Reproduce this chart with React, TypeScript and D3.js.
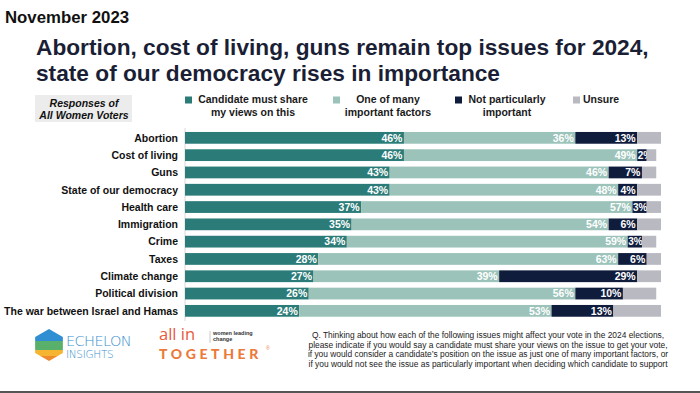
import React from "react";
import * as d3 from "d3";

const categories = [
  "Abortion",
  "Cost of living",
  "Guns",
  "State of our democracy",
  "Health care",
  "Immigration",
  "Crime",
  "Taxes",
  "Climate change",
  "Political division",
  "The war between Israel and Hamas",
];
const mustShare = [46, 46, 43, 43, 37, 35, 34, 28, 27, 26, 24];
const oneOfMany = [36, 49, 46, 48, 57, 54, 59, 63, 39, 56, 53];
const notImportant = [13, 2, 7, 4, 3, 6, 3, 6, 29, 10, 13];
const unsure = [5, 2, 3, 5, 3, 5, 3, 3, 5, 7, 10];

const seriesNames = [
  ["Candidate must share", "my views on this"],
  ["One of many", "important factors"],
  ["Not particularly", "important"],
  ["Unsure"],
];
const colors = ["#2b7c79", "#9cc3ba", "#0f1c3c", "#b9b9c2"];

const footnote = [
  "Q. Thinking about how each of the following issues might affect your vote in the 2024 elections,",
  "please indicate if you would say a candidate must share your views on the issue to get your vote,",
  "if you would consider a candidate\u2019s position on the issue as just one of many important factors, or",
  "if you would not see the issue as particularly important when deciding which candidate to support",
];

const FONT = "'Liberation Sans', Arial, Helvetica, sans-serif";

export default function App() {
  const W = 700,
    H = 393;
  const x = d3.scaleLinear().domain([0, 100]).range([185, 661]);
  const y = d3
    .scaleBand<string>()
    .domain(categories)
    .range([129.2, 129.2 + 17.3 * 11])
    .paddingInner(0.32)
    .paddingOuter(0.16);

  const rows = categories.map((c, i) => ({
    cat: c,
    vals: [mustShare[i], oneOfMany[i], notImportant[i], unsure[i]],
  }));

  const legendX = [185, 333, 455, 573];
  const legendTextX = [253, 388, 507, 583];

  const hexR = 16;
  const hcx = 49,
    hcy = 345;
  const hexPts = d3
    .range(6)
    .map((k) => {
      const a = (Math.PI / 3) * k + Math.PI / 6;
      return [hcx + hexR * Math.cos(a), hcy + hexR * Math.sin(a)];
    })
    .map((p) => p.join(","))
    .join(" ");

  return (
    <svg
      width={W}
      height={H}
      style={{ position: "absolute", left: 0, top: 0, background: "#fff" }}
      fontFamily={FONT}
    >
      <rect width={W} height={H} fill="#fff" />
      <text x={5} y={23} fontSize={16.8} fontWeight="bold" fill="#111">
        November 2023
      </text>
      <text x={36} y={55} fontSize={22.7} fontWeight="bold" fill="#1b1f36">
        Abortion, cost of living, guns remain top issues for 2024,
      </text>
      <text x={36} y={81} fontSize={22.7} fontWeight="bold" fill="#1b1f36">
        state of our democracy rises in importance
      </text>

      <rect x={35} y={95} width={97} height={27} fill="#ececec" />
      <text x={84} y={106.5} textAnchor="middle" fontSize={10.5} fontWeight="bold" fontStyle="italic" fill="#111">
        Responses of
      </text>
      <text x={84} y={119} textAnchor="middle" fontSize={10.5} fontWeight="bold" fontStyle="italic" fill="#111">
        All Women Voters
      </text>

      {seriesNames.map((lines, i) => (
        <g key={i}>
          <rect x={legendX[i]} y={96.5} width={7} height={7} fill={colors[i]} />
          {lines.map((l, j) => (
            <text
              key={j}
              x={legendTextX[i]}
              y={103.2 + j * 12.5}
              textAnchor={lines.length > 1 ? "middle" : "start"}
              fontSize={10.5}
              fontWeight="bold"
              fill="#1a1a1a"
            >
              {l}
            </text>
          ))}
        </g>
      ))}

      <line x1={185} x2={185} y1={128} y2={321} stroke="#d8d8d8" strokeWidth={1} />

      {rows.map((r) => {
        let acc = 0;
        const by = y(r.cat)!;
        const bh = y.bandwidth();
        return (
          <g key={r.cat}>
            <text x={178} y={by + bh / 2 + 3.8} textAnchor="end" fontSize={10.5} fontWeight="bold" fill="#111">
              {r.cat}
            </text>
            {r.vals.map((v, k) => {
              const x0 = x(acc);
              acc += v;
              const x1 = x(acc);
              const small = x1 - x0 < 17;
              return (
                <g key={k}>
                  <rect x={x0} y={by} width={x1 - x0} height={bh} fill={colors[k]} />
                  {k < 3 && (
                    <text
                      x={small ? x0 + 0.5 : x1 - 1.5}
                      y={by + bh / 2 + 3.8}
                      textAnchor={small ? "start" : "end"}
                      fontSize={small ? 10 : 10.5}
                      fontWeight="bold"
                      fill="#fff"
                    >
                      {v}%
                    </text>
                  )}
                </g>
              );
            })}
          </g>
        );
      })}

      {footnote.map((l, i) => (
        <text key={i} x={488} y={338 + i * 9.5} textAnchor="middle" fontSize={8.4} fill="#222">
          {l}
        </text>
      ))}

      <defs>
        <clipPath id="hexclip">
          <polygon points={hexPts} />
        </clipPath>
      </defs>
      <g clipPath="url(#hexclip)">
        <rect x={hcx - hexR} y={hcy - hexR} width={hexR * 2} height={12} fill="#2f8fd2" />
        <rect x={hcx - hexR} y={hcy - hexR + 12} width={hexR * 2} height={9} fill="#58b06a" />
        <rect x={hcx - hexR} y={hcy - hexR + 21} width={hexR * 2} height={6} fill="#f6b531" />
        <rect x={hcx - hexR} y={hcy - hexR + 27} width={hexR * 2} height={6} fill="#f08a2c" />
      </g>
      <text x={66} y={345.5} fontSize={14.5} fill="#3a8fce" fontFamily="'DejaVu Sans', sans-serif" fontWeight={200} letterSpacing={-0.6}>
        ECHELON
      </text>
      <text x={66} y={357.5} fontSize={10.5} fill="#3a8fce" fontFamily="'DejaVu Sans', sans-serif" fontWeight={200} letterSpacing={-0.3}>
        INSIGHTS
      </text>

      <text x={159} y={340} fontSize={16.5} fill="#e85a3c" fontFamily="'Open Sans', sans-serif">
        all in
      </text>
      <line x1={210} x2={210} y1={331} y2={343} stroke="#bbb" strokeWidth={0.8} />
      <text x={213} y={335} fontSize={5.5} fontWeight="bold" fill="#333">
        women leading
      </text>
      <text x={213} y={341} fontSize={5.5} fontWeight="bold" fill="#333">
        change
      </text>
      <text x={159} y={358.5} fontSize={14} fontWeight={900} fill="#ec7a3a" letterSpacing={3.6} fontFamily="Lato, sans-serif">
        TOGETHER
      </text>
      <text x={266} y={349.5} fontSize={5} fill="#ec7a3a">
        ®
      </text>

      <rect x={0} y={391} width={W} height={2} fill="#555" />
    </svg>
  );
}
